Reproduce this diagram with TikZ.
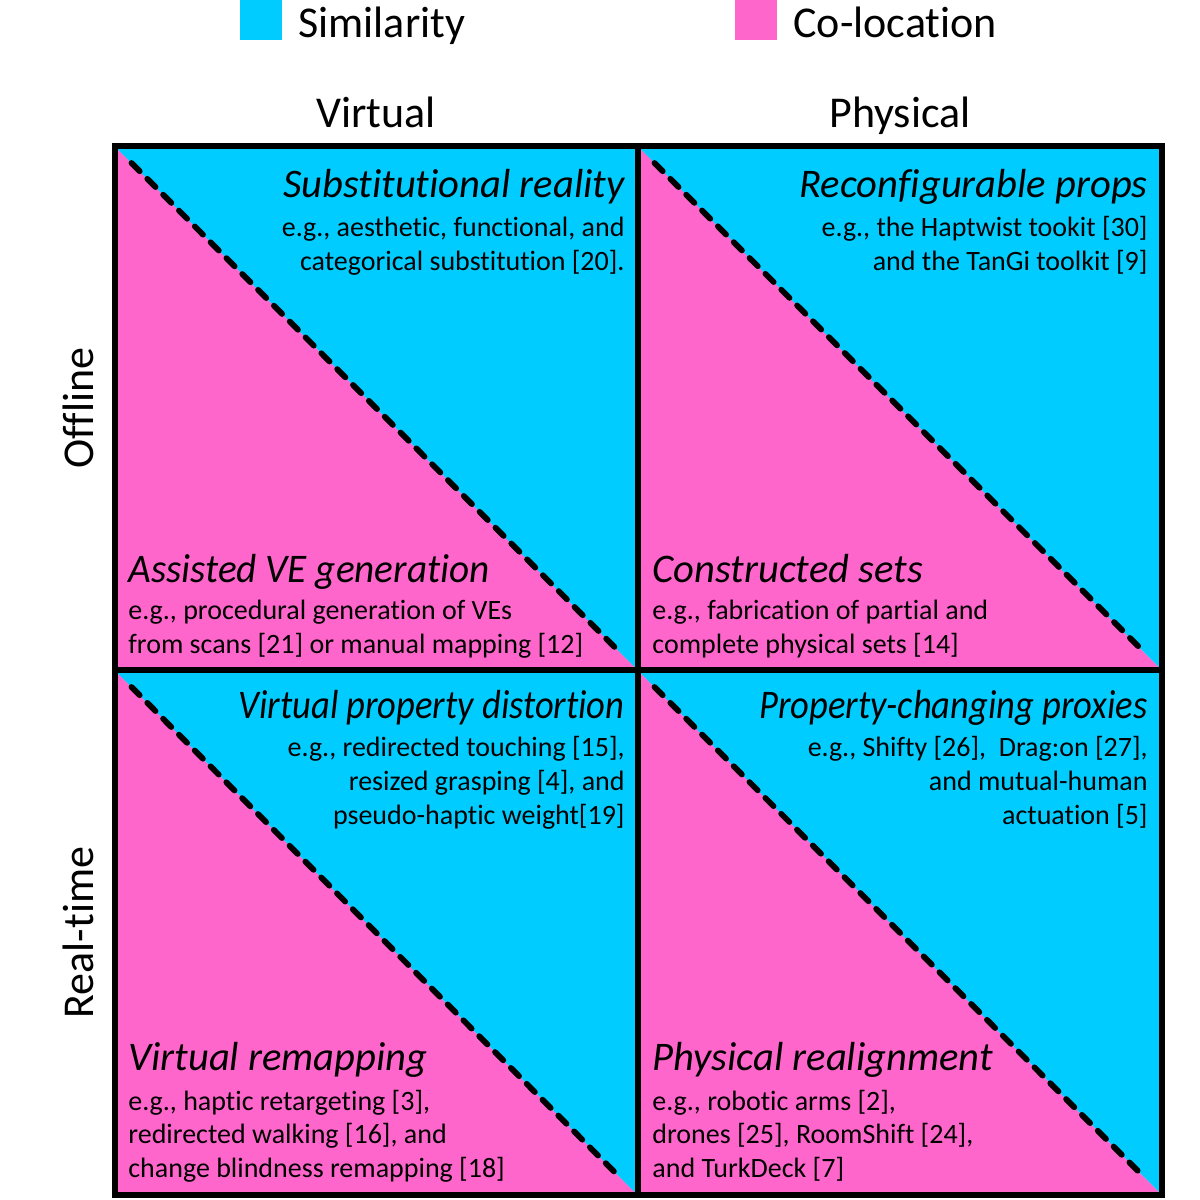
\documentclass[tikz,border=0pt]{standalone}
\usepackage{fontspec}
\usepackage{graphicx}
\setmainfont{Carlito}[Ligatures={NoCommon,NoContextual}]
\newcommand\tix{t\kern0pt i}
\definecolor{simblue}{RGB}{0,204,255}
\definecolor{colpink}{RGB}{255,102,204}
\begin{document}
\begin{tikzpicture}[x=0.5pt,y=-0.5pt,
  gridline/.style={line width=3pt,line cap=rect},
  diagline/.style={line width=2.9pt,line cap=round,dash pattern=on 5.8pt off 5.4pt},
  head/.style={font=\fontsize{22}{26}\selectfont,inner sep=0pt},
  ttl/.style={font=\fontsize{20.3}{24}\selectfont\itshape,inner sep=0pt},
  body/.style={font=\fontsize{14}{17}\selectfont,inner sep=0pt},
  legbox/.style={minimum width=21pt,minimum height=20pt,inner sep=0pt,draw=none}]
\useasboundingbox (0,0) rectangle (1200,1200);
% cells
\foreach \xa/\xb/\ya/\yb in {114.5/637.5/146/670, 637.5/1162/146/670, 114.5/637.5/670/1195, 637.5/1162/670/1195}{
  \fill[colpink] (\xa,\ya) -- (\xb,\yb) -- (\xa,\yb) -- cycle;
  \fill[simblue] (\xa,\ya) -- (\xb,\ya) -- (\xb,\yb) -- cycle;
  \draw[diagline] (\xa+17,\ya+17) -- (\xb-20,\yb-20);
}
\draw[gridline] (114.5,146) rectangle (1162,1195);
\draw[gridline] (637.5,146) -- (637.5,1195);
\draw[gridline] (114.5,670) -- (1162,670);
% legend
\node[legbox,fill=simblue] (lsim) at (261,20) {};
\node[head,anchor=base west] (tsim) at (298,37) {Similarity};
\node[legbox,fill=colpink] (lcol) at (755.5,20) {};
\node[head,anchor=base west] (tcol) at (793,37) {Co-loca\tix on};
% headers
\node[head,anchor=base] (hvir) at (376,127) {Virtual};
\node[head,anchor=base] (hphy) at (900,127) {Physical};
\node[head,anchor=base,rotate=90] (hoff) at (93,408) {Offline};
\node[head,anchor=base,rotate=90] (hrt) at (93,932.5) {Real-\tix me};
% cell 1 top
\node[ttl,anchor=base east] (a1) at (625,197) {Subs\tix tu\tix onal reality};
\node[body,anchor=base east] (a2) at (625,236) {e.g., aesthe\tix c, func\tix onal, and};
\node[body,anchor=base east] (a3) at (625,270) {categorical subs\tix tu\tix on [20].};
% cell 2 top
\node[ttl,anchor=base east] (b1) at (1148,197) {Reconfigurable props};
\node[body,anchor=base east] (b2) at (1148,236) {e.g., the Haptwist tookit [30]};
\node[body,anchor=base east] (b3) at (1148,270) {and the TanGi toolkit [9]};
% cell 1 bottom
\node[ttl,anchor=base west] (c1) at (128,582) {\scalebox{0.965}[1]{Assisted VE genera\tix on}};
\node[body,anchor=base west] (c2) at (128,619) {e.g., procedural genera\tix on of VEs};
\node[body,anchor=base west] (c3) at (128,653) {from scans [21] or manual mapping [12]};
% cell 2 bottom
\node[ttl,anchor=base west] (d1) at (652,582) {Constructed sets};
\node[body,anchor=base west] (d2) at (652,619) {e.g., fabrica\tix on of partial and};
\node[body,anchor=base west] (d3) at (652,653) {complete physical sets [14]};
% cell 3 top
\node[ttl,anchor=base east] (e1) at (625,718) {\scalebox{0.9}[1]{Virtual property distor\tix on}};
\node[body,anchor=base east] (e2) at (625,756) {e.g., redirected touching [15],};
\node[body,anchor=base east] (e3) at (625,790) {resized grasping [4], and};
\node[body,anchor=base east] (e4) at (625,824) {pseudo-hap\tix c weight[19]};
% cell 4 top
\node[ttl,anchor=base east] (f1) at (1148,718) {\scalebox{0.9}[1]{Property-changing proxies}};
\node[body,anchor=base east] (f2) at (1148,756) {e.g., Shifty [26],\ \ Drag:on [27],};
\node[body,anchor=base east] (f3) at (1148,790) {and mutual-human};
\node[body,anchor=base east] (f4) at (1148,824) {actua\tix on [5]};
% cell 3 bottom
\node[ttl,anchor=base west] (g1) at (128,1070) {Virtual remapping};
\node[body,anchor=base west] (g2) at (128,1110) {e.g., hap\tix c retarge\tix ng [3],};
\node[body,anchor=base west] (g3) at (128,1143) {redirected walking [16], and};
\node[body,anchor=base west] (g4) at (128,1177) {change blindness remapping [18]};
% cell 4 bottom
\node[ttl,anchor=base west] (h1) at (652,1070) {Physical realignment};
\node[body,anchor=base west] (h2) at (652,1110) {e.g., robo\tix c arms [2],};
\node[body,anchor=base west] (h3) at (652,1143) {drones [25], RoomShift [24],};
\node[body,anchor=base west] (h4) at (652,1177) {and TurkDeck [7]};
\end{tikzpicture}
\end{document}
